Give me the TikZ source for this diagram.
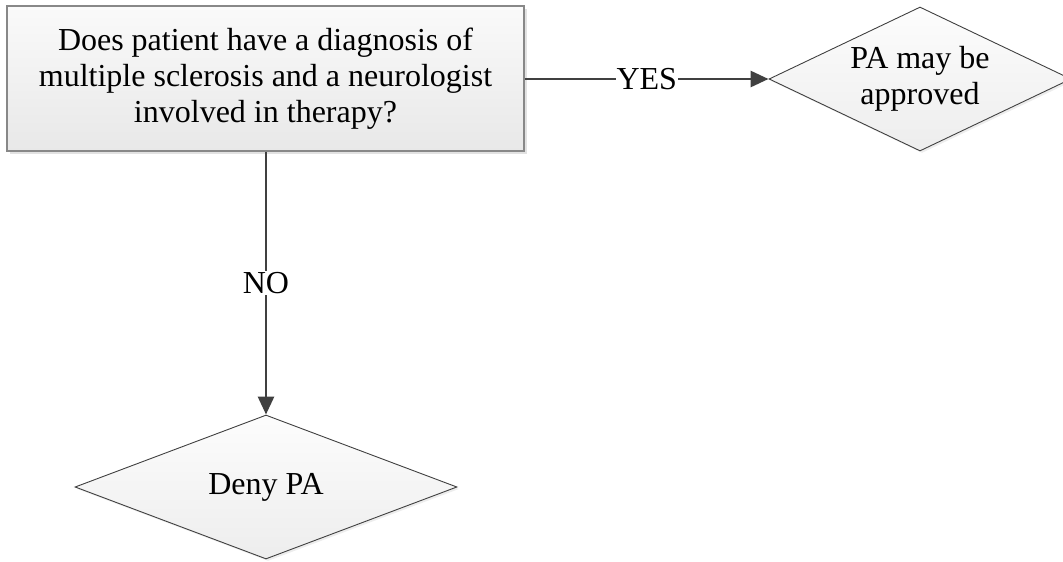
\documentclass[tikz,border=0pt]{standalone}
\usepackage{fontspec}
\setmainfont{Liberation Serif}
\usetikzlibrary{shapes.geometric,shadows,arrows.meta}
\definecolor{linegray}{HTML}{404040}
\definecolor{boxborder}{HTML}{888888}
\tikzset{
  txt/.style={font=\fontsize{32}{36}\selectfont, text=black},
  qbox/.style={txt, draw=boxborder, line width=1.8pt, rectangle, inner sep=0pt,
    minimum width=517pt, minimum height=145pt, align=center,
    top color=white!98!black, bottom color=white!91!black,
    drop shadow={shadow xshift=3pt, shadow yshift=-3pt, fill=black!14, opacity=0.8}},
  dec/.style={txt, draw=linegray, line width=0.9pt, diamond, shape aspect=2.1, inner sep=0pt,
    align=center, top color=white!99!black, bottom color=white!93!black,
    drop shadow={shadow xshift=2pt, shadow yshift=-2pt, fill=black!10, opacity=0.7}},
  conn/.style={draw=linegray, line width=2.8pt, -{Triangle[length=18pt, width=16pt]}},
  lbl/.style={txt, fill=white, inner sep=1pt}
}
\begin{document}
\begin{tikzpicture}[x=1pt, y=-1pt]
\useasboundingbox (0,0) rectangle (1063,562);
\node[qbox] (q) at (265.5,78.5) {Does patient have a diagnosis of\\multiple sclerosis and a neurologist\\involved in therapy?};
\node[dec, minimum width=302pt, minimum height=144pt] (yes) at (920,79) {PA may be\\approved};
\node[dec, minimum width=382pt, minimum height=144pt] (deny) at (266,487) {Deny PA};
\draw[conn] (q.east |- yes.west) -- node[lbl] {YES} (yes.west);
\draw[conn] (deny.north |- q.south) -- node[lbl] {NO} (deny.north);
\end{tikzpicture}
\end{document}
